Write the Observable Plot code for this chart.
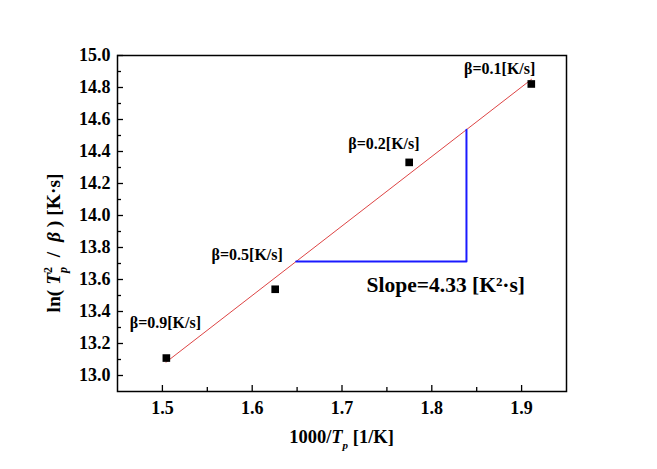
<!DOCTYPE html>
<html>
<head>
<meta charset="utf-8">
<script src="https://cdn.jsdelivr.net/npm/d3@7"></script>
<script src="https://cdn.jsdelivr.net/npm/@observablehq/plot@0.6"></script>
<style>
  html, body { margin: 0; padding: 0; background: #fff; }
  #chart svg { display: block; }
</style>
</head>
<body>
<div id="chart"></div>
<script>
// Data
const invTp = [1.5044, 1.6256, 1.7748, 1.9108];      // 1000/Tp [1/K]
const lnVal = [13.109, 13.539, 14.332, 14.822];      // ln(Tp^2/beta) [K·s]
const rates = ["β=0.9[K/s]", "β=0.5[K/s]", "β=0.2[K/s]", "β=0.1[K/s]"];
const labelX = [1.5033, 1.5944, 1.7467, 1.8756];
const labelY = [13.327, 13.751, 14.448, 14.916];

// Linear fit line endpoints
const fitX = [1.504, 1.911];
const fitY = [13.083, 14.851];

// Slope triangle corners
const triX = [1.649, 1.8386, 1.8386];
const triY = [13.713, 13.713, 14.536];
const slopeText = "Slope=4.33 [K²·s]";
const slopeX = [1.8156];
const slopeY = [13.564];

// Axis ticks
const xTicks = [1.5, 1.6, 1.7, 1.8, 1.9];
const xMinor = [1.55, 1.65, 1.75, 1.85];
const yTicks = [13.0, 13.2, 13.4, 13.6, 13.8, 14.0, 14.2, 14.4, 14.6, 14.8, 15.0];
const yMinor = [13.1, 13.3, 13.5, 13.7, 13.9, 14.1, 14.3, 14.5, 14.7, 14.9];

const points = invTp.map((x, i) => ({x, y: lnVal[i]}));
const labels = rates.map((t, i) => ({t, x: labelX[i], y: labelY[i]}));
const fit = fitX.map((x, i) => ({x, y: fitY[i]}));
const tri = triX.map((x, i) => ({x, y: triY[i]}));

const FONT = "'Liberation Serif', 'Times New Roman', serif";

const plot = Plot.plot({
  width: 657,
  height: 469,
  marginLeft: 117,
  marginRight: 91,
  marginTop: 55,
  marginBottom: 78,
  style: {fontFamily: FONT, fontSize: "18px", fontWeight: "bold", color: "#000", background: "#fff"},
  x: {domain: [1.45, 1.95]},
  y: {domain: [12.9, 15.0]},
  marks: [
    Plot.axisX({ticks: xTicks, tickSize: -6, tickPadding: 16, tickFormat: d => d.toFixed(1), label: null, strokeWidth: 1.3, fontWeight: "bold", fontSize: 18}),
    Plot.axisX({ticks: xMinor, tickSize: -4, tickFormat: () => "", label: null, strokeWidth: 1.3}),
    Plot.axisY({ticks: yTicks, tickSize: -6, tickPadding: 13, tickFormat: d => d.toFixed(1), label: null, strokeWidth: 1.3, fontWeight: "bold", fontSize: 18}),
    Plot.axisY({ticks: yMinor, tickSize: -4, tickFormat: () => "", label: null, strokeWidth: 1.3}),
    Plot.frame({stroke: "#000", strokeWidth: 1.5}),
    Plot.line(fit, {x: "x", y: "y", stroke: "#dd4444", strokeWidth: 1}),
    Plot.line(tri, {x: "x", y: "y", stroke: "#1a1aff", strokeWidth: 2}),
    Plot.dot(points, {x: "x", y: "y", symbol: "square", r: 4.3, fill: "#000", stroke: "none"}),
    Plot.text(labels, {x: "x", y: "y", text: "t", fontSize: 16, fontWeight: "bold", fill: "#000"}),
    Plot.text([slopeText], {x: slopeX, y: slopeY, text: d => d, fontSize: 21.5, fontWeight: "bold", fill: "#000"})
  ]
});

document.getElementById("chart").appendChild(plot);

// Axis titles with italic/sub/superscripts
const svg = d3.select(plot);
const xr = plot.scale("x").range;
const yr = plot.scale("y").range;
const xc = (xr[0] + xr[1]) / 2;
const yc = (yr[0] + yr[1]) / 2;

const xt = svg.append("text")
  .attr("x", xc).attr("y", 443)
  .attr("text-anchor", "middle")
  .attr("font-family", FONT).attr("font-size", 18.5).attr("font-weight", "bold").attr("fill", "#000");
xt.append("tspan").text("1000/");
xt.append("tspan").attr("font-style", "italic").text("T");
xt.append("tspan").attr("font-style", "italic").attr("font-size", 11).attr("dy", 6).text("p");
xt.append("tspan").attr("dy", -6).text(" [1/K]");

const yt = svg.append("text")
  .attr("transform", `translate(60,${yc + 20}) rotate(-90)`)
  .attr("text-anchor", "middle")
  .attr("font-family", FONT).attr("font-size", 19.5).attr("font-weight", "bold").attr("fill", "#000");
yt.append("tspan").text("ln( ");
yt.append("tspan").attr("font-style", "italic").text("T");
yt.append("tspan").attr("font-size", 12).attr("dy", -8).text("2");
yt.append("tspan").attr("font-style", "italic").attr("font-size", 12).attr("dx", -6).attr("dy", 15).text("p");
yt.append("tspan").attr("dy", -7).text("  /  ");
yt.append("tspan").attr("font-style", "italic").text("β");
yt.append("tspan").text(" ) [K·s]");
</script>
</body>
</html>
